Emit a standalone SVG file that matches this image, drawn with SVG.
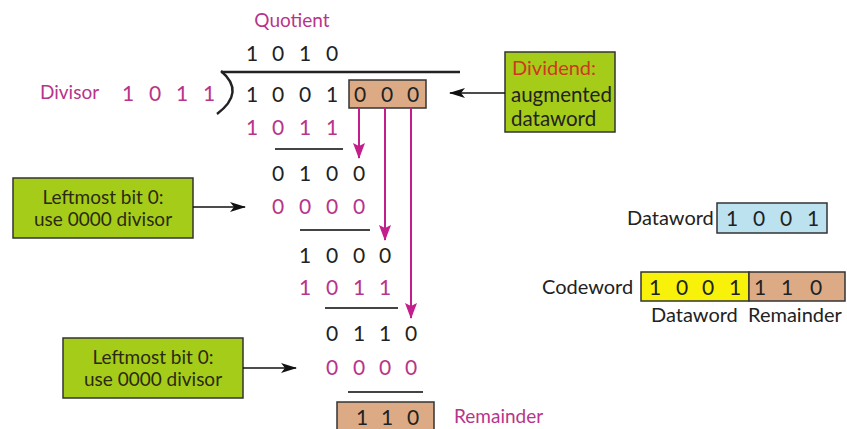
<svg xmlns="http://www.w3.org/2000/svg" width="847" height="429" viewBox="0 0 847 429">
<defs>
<marker id="mag" markerUnits="userSpaceOnUse" markerWidth="16" markerHeight="12" refX="15" refY="6" orient="auto" viewBox="0 0 16 12">
<path d="M0,0 L16,6 L0,12 L3,6 Z" fill="#c21f8c"/>
</marker>
<marker id="blk" markerUnits="userSpaceOnUse" markerWidth="16" markerHeight="10" refX="15" refY="5" orient="auto" viewBox="0 0 16 10">
<path d="M0,0 L16,5 L0,10 L4,5 Z" fill="#111"/>
</marker>
<style>
text{font-family:Lato,"Open Sans","Liberation Sans",sans-serif;font-size:20px}
.d{fill:#222;text-anchor:middle;font-size:21px}
.m{fill:#b8348a;text-anchor:middle;font-size:21px}
.ml{fill:#b8348a}
.lab{fill:#222}
.gt{fill:#2a2a10;text-anchor:middle;font-size:19px}
.rule{stroke:#444;stroke-width:2}
.green{fill:#a6cc1a;stroke:#333;stroke-width:1.5}
.tan{fill:#dcab86;stroke:#333;stroke-width:1.5}
.ma{stroke:#c21f8c;stroke-width:2;fill:none}
.ba{stroke:#111;stroke-width:1.5;fill:none}
</style>
</defs>

<g id="division">
<text class="ml" x="292" y="27" style="font-size:19px;text-anchor:middle">Quotient</text>
<text class="d" x="252" y="61">1</text><text class="d" x="278" y="61">0</text><text class="d" x="305" y="61">1</text><text class="d" x="332" y="61">0</text>
<line x1="221" y1="72" x2="460" y2="72" stroke="#222" stroke-width="2.5"/>
<path d="M221,71 Q246,92 217,114" fill="none" stroke="#222" stroke-width="2.5"/>
<text class="ml" x="40" y="99" style="font-size:19px">Divisor</text>
<text class="m" x="128" y="101">1</text><text class="m" x="155" y="101">0</text><text class="m" x="182" y="101">1</text><text class="m" x="209" y="101">1</text>
<text class="d" x="252" y="102">1</text><text class="d" x="278" y="102">0</text><text class="d" x="305" y="102">0</text><text class="d" x="332" y="102">1</text>
<text class="m" x="252" y="135">1</text><text class="m" x="278" y="135">0</text><text class="m" x="305" y="135">1</text><text class="m" x="332" y="135">1</text>
<line class="rule" x1="275" y1="149" x2="343" y2="149"/>
<text class="d" x="278" y="181">0</text><text class="d" x="305" y="181">1</text><text class="d" x="332" y="181">0</text><text class="d" x="359" y="181">0</text>
<text class="m" x="278" y="214">0</text><text class="m" x="305" y="214">0</text><text class="m" x="332" y="214">0</text><text class="m" x="359" y="214">0</text>
<line class="rule" x1="300" y1="230" x2="370" y2="230"/>
<text class="d" x="305" y="263">1</text><text class="d" x="332" y="263">0</text><text class="d" x="359" y="263">0</text><text class="d" x="385" y="263">0</text>
<text class="m" x="305" y="295">1</text><text class="m" x="332" y="295">0</text><text class="m" x="359" y="295">1</text><text class="m" x="385" y="295">1</text>
<line class="rule" x1="325" y1="308" x2="398" y2="308"/>
<text class="d" x="332" y="341">0</text><text class="d" x="359" y="341">1</text><text class="d" x="385" y="341">1</text><text class="d" x="411" y="341">0</text>
<text class="m" x="332" y="375">0</text><text class="m" x="359" y="375">0</text><text class="m" x="385" y="375">0</text><text class="m" x="411" y="375">0</text>
<line class="rule" x1="348" y1="392" x2="423" y2="392"/>
</g>

<g id="augmented-zeros">
<rect class="tan" x="349" y="80" width="77" height="28"/>
<text class="d" x="360" y="102">0</text><text class="d" x="387" y="102">0</text><text class="d" x="413" y="102">0</text>
</g>

<g id="remainder">
<rect class="tan" x="337" y="402" width="97" height="30"/>
<text class="d" x="362" y="425">1</text><text class="d" x="387" y="425">1</text><text class="d" x="413" y="425">0</text>
<text class="ml" x="454" y="423" style="font-size:19px">Remainder</text>
</g>

<g id="dividend-note">
<rect class="green" x="505" y="52" width="110" height="80"/>
<text x="512" y="75" fill="#d0381e" style="font-size:20px">Dividend:</text>
<text x="511" y="102" class="lab" style="font-size:20.5px">augmented</text>
<text x="511" y="126" class="lab" style="font-size:20.5px">dataword</text>
</g>

<g id="note1">
<rect class="green" x="13" y="178" width="180" height="60"/>
<text class="gt" x="103" y="204">Leftmost bit 0:</text>
<text class="gt" x="103" y="226">use 0000 divisor</text>
</g>

<g id="note2">
<rect class="green" x="63" y="338" width="180" height="60"/>
<text class="gt" x="153" y="364">Leftmost bit 0:</text>
<text class="gt" x="153" y="386">use 0000 divisor</text>
</g>

<g id="dataword">
<text class="lab" x="627" y="225">Dataword</text>
<rect x="717" y="203" width="110" height="30" fill="#bde2ef" stroke="#333" stroke-width="1.5"/>
<text class="d" x="732" y="226">1</text><text class="d" x="759" y="226">0</text><text class="d" x="786" y="226">0</text><text class="d" x="813" y="226">1</text>
</g>

<g id="codeword">
<text class="lab" x="542" y="294">Codeword</text>
<rect x="641" y="272" width="108" height="29" fill="#f8f20a" stroke="#333" stroke-width="1.5"/>
<rect class="tan" x="749" y="272" width="96" height="29"/>
<text class="d" x="655" y="295">1</text><text class="d" x="682" y="295">0</text><text class="d" x="708" y="295">0</text><text class="d" x="735" y="295">1</text>
<text class="d" x="760" y="295">1</text><text class="d" x="787" y="295">1</text><text class="d" x="816" y="295">0</text>
<text class="lab" x="651" y="322">Dataword</text>
<text class="lab" x="748" y="322">Remainder</text>
</g>

<g id="connectors">
<line class="ma" x1="359" y1="108" x2="359" y2="158" marker-end="url(#mag)"/>
<line class="ma" x1="385" y1="108" x2="385" y2="240" marker-end="url(#mag)"/>
<line class="ma" x1="411" y1="108" x2="411" y2="318" marker-end="url(#mag)"/>
<line class="ba" x1="505" y1="93" x2="450" y2="93" marker-end="url(#blk)"/>
<line class="ba" x1="193" y1="207" x2="245" y2="207" marker-end="url(#blk)"/>
<line class="ba" x1="243" y1="368" x2="296" y2="368" marker-end="url(#blk)"/>
</g>
</svg>
